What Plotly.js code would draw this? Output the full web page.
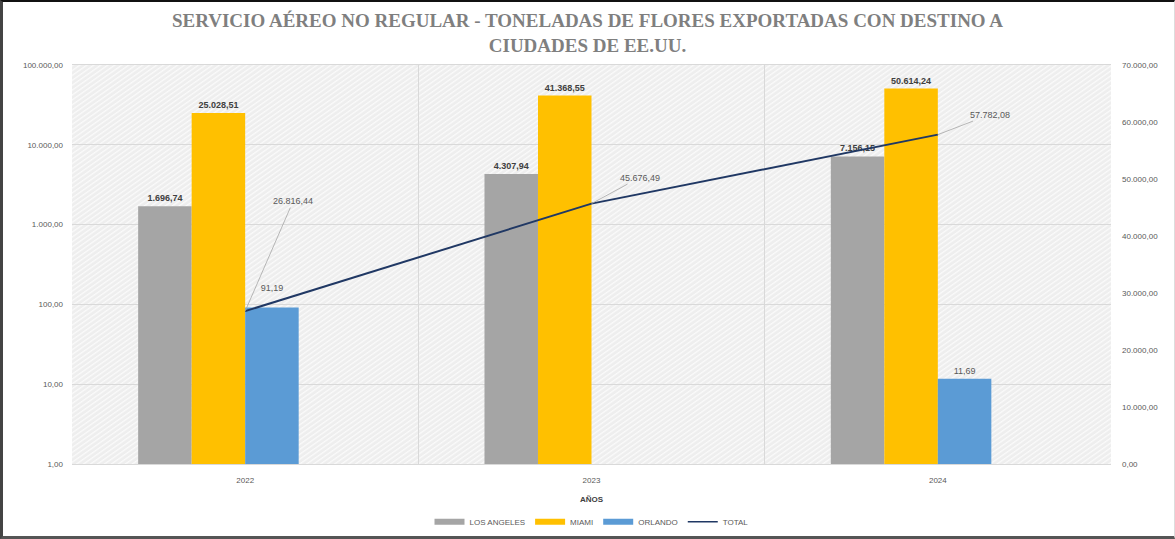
<!DOCTYPE html>
<html>
<head>
<meta charset="utf-8">
<script src="https://cdn.plot.ly/plotly-3.0.1.min.js"></script>
<style>
  html, body { margin: 0; padding: 0; background: #fff; }
  #wrap { position: relative; width: 1175px; height: 539px; }
  #chart { position: absolute; left: 0; top: 0; width: 1175px; height: 539px; }
  #frame { position: absolute; left: 0; top: 0; width: 1175px; height: 539px; box-sizing: border-box;
           border-top: 2px solid #111; border-left: 3px solid #444; border-bottom: 3px solid #555; border-right: 1px solid #ddd;
           pointer-events: none; }
</style>
</head>
<body>
<div id="wrap"><div id="chart"></div><div id="frame"></div></div>
<script>
// ---- data ----
const years = ['2022', '2023', '2024'];
const losAngeles = [1696.74, 4307.94, 7156.15];
const miami = [25028.51, 41368.55, 50614.24];
const orlando = [91.19, null, 11.69];
const total = [26816.44, 45676.49, 57782.08];
const leftTicks = [1, 10, 100, 1000, 10000, 100000];
const seriesNames = ['LOS ANGELES', 'MIAMI', 'ORLANDO', 'TOTAL'];

const FONT = 'Liberation Sans, Arial, sans-serif';
const barW = 0.1545;
const colors = ['#a5a5a5', '#ffc000', '#5b9bd5', '#203864'];

function fmt(v) {
  const s = v.toFixed(2).split('.');
  return s[0].replace(/\B(?=(\d{3})+(?!\d))/g, '.') + ',' + s[1];
}

const hatch = '<svg xmlns="http://www.w3.org/2000/svg" width="1039" height="398">' +
  '<defs><pattern id="p" width="4" height="4" patternUnits="userSpaceOnUse" patternTransform="rotate(-35)">' +
  '<rect width="4" height="4" fill="#eeeeee"/><rect width="4" height="1.3" fill="#fafafa"/></pattern></defs>' +
  '<rect width="1039" height="398" fill="url(#p)"/></svg>';

const labelTpl = [
  '<b>%{y:,.2f}</b>',
  '<b>%{y:,.2f}</b>',
  ['%{y:,.2f}<br> ', '%{y:,.2f}', '%{y:,.2f}']
];
const barSeries = [losAngeles, miami, orlando];
const traces = barSeries.map((vals, i) => ({
  type: 'bar', name: seriesNames[i], x: years, y: vals, width: barW, offset: (i - 2) * barW,
  marker: { color: colors[i] }, showlegend: false,
  texttemplate: labelTpl[i], textposition: 'outside', cliponaxis: false,
  textfont: { family: FONT, size: 9, color: i < 2 ? '#404040' : '#595959' }
}));
traces.push({ type: 'scatter', mode: 'lines', name: seriesNames[3], x: years, y: total, yaxis: 'y2',
  line: { color: colors[3], width: 2 }, showlegend: false });
// legend entries (wide colour keys like the original)
seriesNames.forEach((nm, i) => traces.push({
  type: 'scatter', mode: 'lines', name: nm, x: [null], y: [null], showlegend: true,
  line: { color: colors[i], width: i < 3 ? 6 : 1.5 }
}));

const offsets = [[48, -110], [48, -26], [52, -20]];
const annotations = years.map((yr, i) => ({
  x: i, y: total[i], xref: 'x', yref: 'y2', text: fmt(total[i]),
  showarrow: true, arrowhead: 0, arrowwidth: 0.8, arrowcolor: '#a6a6a6',
  ax: offsets[i][0], ay: offsets[i][1], standoff: 0,
  font: { family: FONT, size: 9, color: '#595959' }
}));

const layout = {
  width: 1175, height: 539,
  margin: { l: 72, r: 64, t: 65, b: 75, autoexpand: false },
  paper_bgcolor: '#ffffff', plot_bgcolor: '#eeeeee',
  separators: ',.',
  barmode: 'overlay',
  font: { family: FONT, size: 8, color: '#595959' },
  title: {
    text: 'SERVICIO AÉREO NO REGULAR - TONELADAS DE FLORES EXPORTADAS CON DESTINO A<br>CIUDADES DE EE.UU.',
    font: { family: 'Liberation Serif, Times New Roman, serif', size: 19, color: '#7f7f7f', weight: 'bold' },
    x: 0.5, xanchor: 'center', y: 0.95, yanchor: 'top', yref: 'container'
  },
  xaxis: {
    type: 'category', range: [-0.5, 2.5], autorange: false, tickson: 'boundaries', showgrid: true, gridcolor: '#d9d9d9', gridwidth: 1,
    ticks: '', showline: true, linecolor: '#d9d9d9', mirror: true, zeroline: false, automargin: false,
    ticklabelstandoff: 8,
    tickfont: { family: FONT, size: 8, color: '#595959' },
    title: { text: '<b>AÑOS</b>', font: { family: FONT, size: 8, color: '#404040' }, standoff: 12 }
  },
  yaxis: {
    type: 'log', range: [0, 5], tickvals: leftTicks, tickformat: ',.2f', automargin: false,
    showgrid: true, gridcolor: '#d9d9d9', zeroline: false, ticks: '', ticklabelstandoff: 8,
    tickfont: { family: FONT, size: 8, color: '#595959' }
  },
  yaxis2: {
    overlaying: 'y', side: 'right', range: [0, 70000], dtick: 10000, tickformat: ',.2f', automargin: false,
    showgrid: false, zeroline: false, ticks: '', ticklabelstandoff: 10,
    tickfont: { family: FONT, size: 8, color: '#595959' }
  },
  legend: {
    orientation: 'h', x: 0.5, xanchor: 'center', y: -0.145, yanchor: 'middle',
    font: { family: FONT, size: 8, color: '#595959' }, itemwidth: 30, traceorder: 'normal'
  },
  images: [{
    source: 'data:image/svg+xml;charset=utf-8,' + encodeURIComponent(hatch),
    xref: 'paper', yref: 'paper', x: 0, y: 1, sizex: 1, sizey: 1,
    sizing: 'stretch', layer: 'below', xanchor: 'left', yanchor: 'top'
  }],
  annotations: annotations,
  showlegend: true
};

Plotly.newPlot('chart', traces, layout, { displayModeBar: false, staticPlot: true });
</script>
</body>
</html>
